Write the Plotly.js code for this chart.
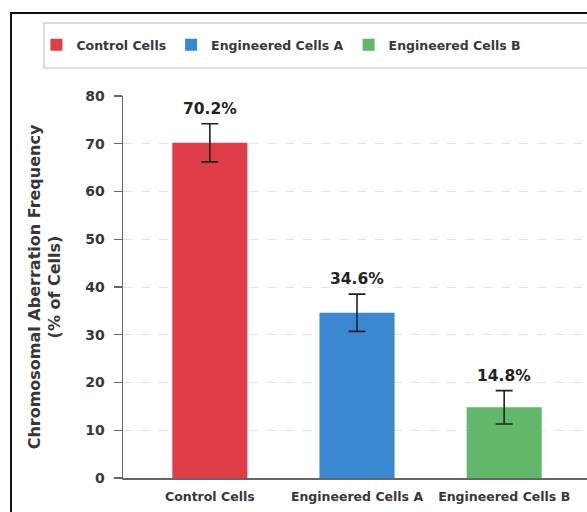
<!DOCTYPE html>
<html>
<head>
<meta charset="utf-8">
<script src="https://cdn.plot.ly/plotly-3.0.1.min.js"></script>
<style>
html,body{margin:0;padding:0;width:587px;height:512px;overflow:hidden;background:#fff;}
#frame{position:absolute;left:10px;top:12px;width:640px;height:560px;border:2px solid #111;box-sizing:border-box;pointer-events:none;z-index:5;}
#chart{position:absolute;left:0;top:0;width:600px;height:512px;}
</style>
</head>
<body>
<div id="chart"></div>
<div id="frame"></div>
<script>
const categories = ["Control Cells", "Engineered Cells A", "Engineered Cells B"];
const values = [70.2, 34.6, 14.8];
const errors = [4.0, 3.9, 3.5];
const valueLabels = ["70.2%", "34.6%", "14.8%"];
const colors = ["#df3d47", "#3a87d2", "#62b76a"];
const yTicks = [0, 10, 20, 30, 40, 50, 60, 70, 80];

const FONT = "'DejaVu Sans', Verdana, sans-serif";
const TXT = "#383838";

const traces = categories.map((c, i) => ({
  type: "bar",
  name: c,
  x: [c],
  y: [values[i]],
  marker: {color: colors[i]},
  error_y: {type: "data", array: [errors[i]], visible: true, color: "#222", thickness: 1.6, width: 8.5},
  hoverinfo: "skip"
}));

const annotations = categories.map((c, i) => ({
  x: c, y: values[i] + errors[i], xref: "x", yref: "y",
  text: valueLabels[i], showarrow: false, yanchor: "bottom", yshift: 4,
  font: {family: FONT, size: 15.5, color: "#222", weight: 700}
}));

const layout = {
  width: 600, height: 512,
  margin: {l: 123, r: 9, t: 96, b: 34},
  paper_bgcolor: "#fff", plot_bgcolor: "#fff",
  barmode: "overlay",
  bargap: 0.49,
  showlegend: true,
  legend: {
    orientation: "h", x: -0.185, xanchor: "left", y: 1.1335, yanchor: "middle",
    borderwidth: 0, bgcolor: "rgba(0,0,0,0)",
    font: {family: FONT, size: 12.5, color: TXT, weight: 700},
    itemclick: false
  },
  shapes: [{
    type: "rect", xref: "paper", yref: "paper",
    x0: -0.169, x1: 1.1, y0: 1.073, y1: 1.191,
    line: {color: "#d2d2d2", width: 1.5}, fillcolor: "rgba(0,0,0,0)", layer: "below"
  }],
  xaxis: {
    type: "category", categoryorder: "array", categoryarray: categories,
    range: [-0.59, 2.59],
    showline: true, linecolor: "#666", linewidth: 1.5,
    ticks: "", showgrid: false, zeroline: false,
    ticklabelstandoff: 6,
    tickfont: {family: FONT, size: 12.5, color: TXT, weight: 700}
  },
  yaxis: {
    range: [0, 80], tickvals: yTicks, ticktext: yTicks.map(String),
    showline: true, linecolor: "#666", linewidth: 1.5,
    ticks: "outside", ticklen: 8, tickcolor: "#666", tickwidth: 1.2,
    showgrid: true, gridcolor: "#e4e4e4", griddash: "dash", gridwidth: 1,
    zeroline: false,
    ticklabelstandoff: 6,
    tickfont: {family: FONT, size: 14, color: TXT, weight: 700},
    title: {text: "Chromosomal Aberration Frequency<br>(% of Cells)", standoff: 20,
            font: {family: FONT, size: 16, color: TXT, weight: 700}}
  },
  annotations: annotations
};

Plotly.newPlot("chart", traces, layout, {displayModeBar: false, staticPlot: true});
</script>
</body>
</html>
